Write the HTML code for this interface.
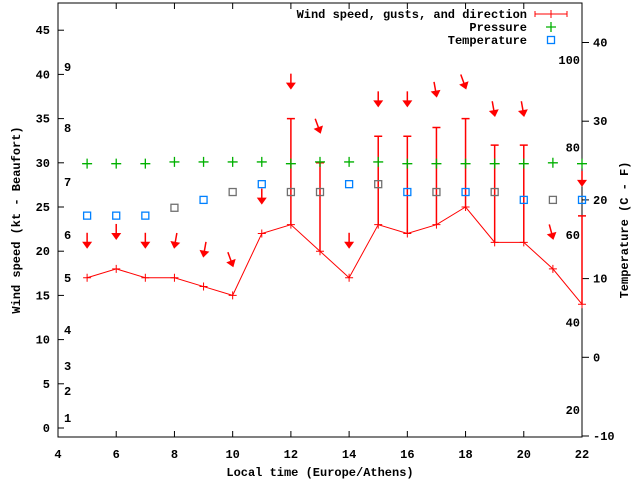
<!DOCTYPE html>
<html><head><meta charset="utf-8"><style>
body{margin:0;background:#fff}
svg text{font-family:"Liberation Mono",monospace;font-size:12px;font-weight:bold;fill:#000}
</style></head><body>
<svg id="chart" width="640" height="480" xmlns="http://www.w3.org/2000/svg"></svg>
<script>
const hours=[5,6,7,8,9,10,11,12,13,14,15,16,17,18,19,20,21,22];
const windSpeed=[17,18,17,17,16,15,22,23,20,17,23,22,23,25,21,21,18,14];
const gusts=[null,null,null,null,null,null,null,35,30,null,33,33,34,35,32,32,null,24];
const pressure=[29.9,29.9,29.9,30.1,30.1,30.1,30.1,29.9,30.1,30.1,30.1,29.9,29.9,29.9,29.9,29.9,30.0,29.9];
const temperature=[18,18,18,19,20,21,22,21,21,22,22,21,21,21,21,20,20,20];
const tempGray=[0,0,0,1,0,1,0,1,1,0,1,0,1,0,1,0,1,0];
const arrowPos=[20.5,21.5,20.5,20.5,19.5,18.4,25.5,38.5,33.5,20.5,36.5,36.5,37.6,38.5,35.4,35.4,21.5,27.5];
const arrowAngle=[0,0,0,10,10,-20,0,0,-20,0,0,0,-10,-20,-10,-10,-15,0];
const xTicks=[4,6,8,10,12,14,16,18,20,22];
const yTicks=[0,5,10,15,20,25,30,35,40,45];
const tTicks=[-10,0,10,20,30,40];
const fLabels=[20,40,60,80,100];
const bLabels=[[1,418],[2,391],[3,366],[4,330],[5,278],[6,235],[7,182],[8,128],[9,67]];
const L=58,R=582,T=3,B=437;
const X=h=>L+(h-4)*(R-L)/18;
const Y=v=>428-v*8.84;
const TY=c=>357.3-c*7.87;
const svg=document.getElementById('chart');
const NS='http://www.w3.org/2000/svg';
function el(tag,attrs,parent){const e=document.createElementNS(NS,tag);for(const k in attrs)e.setAttribute(k,attrs[k]);(parent||svg).appendChild(e);return e;}
function txt(s,x,y,anchor,parent){const t=el('text',{x:x,y:y,'text-anchor':anchor||'start'},parent);t.textContent=s;return t;}
// frame
const frame=el('rect',{x:L,y:T,width:R-L,height:B-T,fill:'none',stroke:'#000','stroke-width':1});

const ax=el('g',{});
xTicks.forEach(h=>{
  el('line',{x1:X(h),x2:X(h),y1:B,y2:B-6,stroke:'#000'},ax);
  el('line',{x1:X(h),x2:X(h),y1:T,y2:T+6,stroke:'#000'},ax);
  const t=txt(String(h),X(h),458,'middle',ax);
  
  
});
yTicks.forEach(v=>{
  el('line',{x1:L,x2:L+6,y1:Y(v),y2:Y(v),stroke:'#000'},ax);
  const t=txt(String(v),L-8,Y(v)+4,'end',ax);
  
  
});
tTicks.forEach(c=>{
  el('line',{x1:R,x2:R+7,y1:TY(c),y2:TY(c),stroke:'#000'},ax);
  const t=txt(String(c),R+11,TY(c)+4,'start',ax);
  
  
});
fLabels.forEach(f=>{
  const t=txt(String(f),580,TY((f-32)*5/9)+4,'end',ax);
  
  
});
bLabels.forEach(b=>{
  const t=txt(String(b[0]),64,b[1]+4,'start',ax);
  
  
});
let t=txt('Local time (Europe/Athens)',320,476,'middle');

t=txt('Wind speed (kt - Beaufort)',0,0,'middle');t.setAttribute('transform','translate(20,220) rotate(-90)');

t=txt('Temperature (C - F)',0,0,'middle');t.setAttribute('transform','translate(628,230) rotate(-90)');

// wind line
const wg=el('g',{stroke:'red',fill:'none','stroke-width':1});

el('polyline',{points:hours.map((h,i)=>X(h)+','+Y(windSpeed[i])).join(' ')},wg);
hours.forEach((h,i)=>{
  const x=X(h),y=Y(windSpeed[i]);
  const p=el('path',{d:`M${x-4},${y}H${x+4}M${x},${y-4}V${y+4}`},wg);
  
  
  if(gusts[i]!=null){
    const g=el('path',{d:`M${x},${y}V${Y(gusts[i])}M${x-4},${Y(gusts[i])}H${x+4}`,'stroke-width':1.5},wg);
    
    
  }
});
// arrows
hours.forEach((h,i)=>{
  const x=X(h),y=Y(arrowPos[i]);
  const g=el('g',{transform:`translate(${x},${y}) rotate(${arrowAngle[i]})`});
  
  
  el('line',{x1:0,y1:-14,x2:0,y2:0,stroke:'red','stroke-width':1.5},g);
  el('path',{d:'M-5,-5L5,-5L0,2Z',fill:'red'},g);
});
// pressure
hours.forEach((h,i)=>{
  const x=X(h),y=Y(pressure[i]);
  const p=el('path',{d:`M${x-5},${y}H${x+5}M${x},${y-5}V${y+5}`,stroke:'#00b000','stroke-width':1.3});
  
  
});
// temperature
hours.forEach((h,i)=>{
  const x=X(h),y=TY(temperature[i]);
  const r=el('rect',{x:x-3.5,y:y-3.5,width:7,height:7,fill:'none',stroke:tempGray[i]?'#707070':'#0080ff','stroke-width':1.3});
  
  
});
// legend
const lg=el('g',{});
let e=txt('Wind speed, gusts, and direction',527,18,'end',lg);

el('path',{d:'M535,14H567M535,11V17M567,11V17M551,10V18',stroke:'red',fill:'none'},lg);
e=txt('Pressure',527,31,'end',lg);

el('path',{d:'M546,27H556M551,22V32',stroke:'#00b000','stroke-width':1.3},lg);
e=txt('Temperature',527,44,'end',lg);

el('rect',{x:547.5,y:36.5,width:7,height:7,fill:'none',stroke:'#0080ff','stroke-width':1.3},lg);
</script>
</body></html>
